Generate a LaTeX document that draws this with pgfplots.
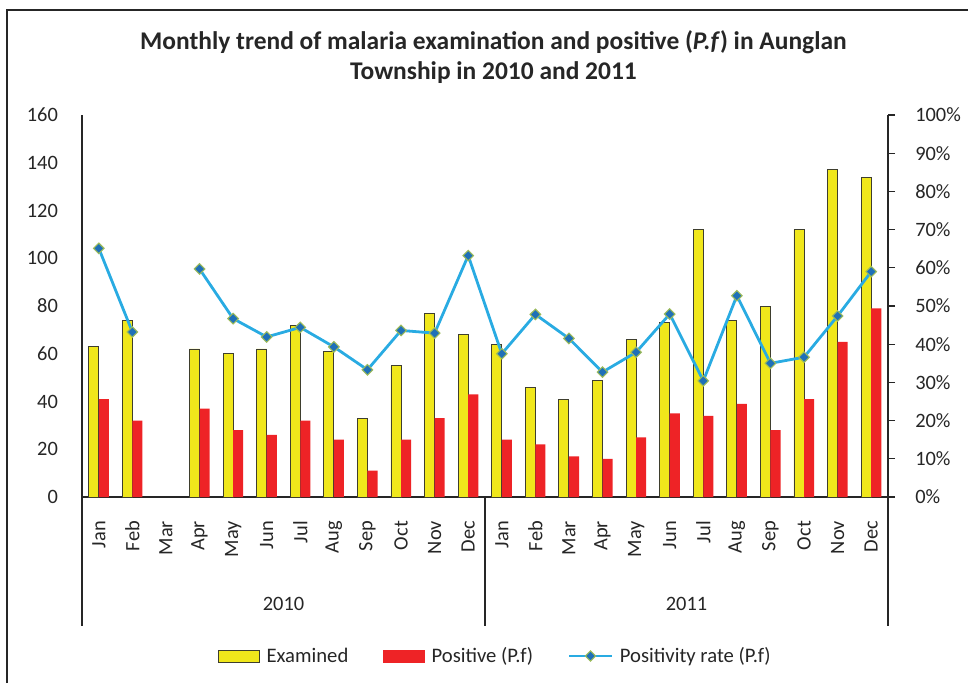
\documentclass[border=0pt]{standalone}
\usepackage{fontspec}
\setmainfont{Carlito}
\usepackage{pgfplots}
\pgfplotsset{compat=1.18}
\definecolor{exyellow}{HTML}{F0E71B}
\definecolor{exedge}{HTML}{3E3E2E}
\definecolor{posred}{HTML}{EE2326}
\definecolor{lineblue}{HTML}{29ABE2}
\definecolor{mkblue}{HTML}{1F70B8}
\definecolor{mkedge}{HTML}{9CBB5A}
\definecolor{txt}{HTML}{262626}
\begin{document}
\begin{tikzpicture}
\useasboundingbox (0,0) rectangle (726pt,512.25pt);
\draw[line width=1.1pt, txt] (5.25pt,0pt) -- (5.25pt,504.75pt) -- (726pt,504.75pt);
\node[anchor=base, font=\bfseries\fontsize{19.1}{22}\selectfont, text=txt, inner sep=0pt] at (370.1pt,475.3pt) {Monthly trend of malaria examination and positive (\textit{P.f}) in Aunglan};
\node[anchor=base, font=\bfseries\fontsize{19.1}{22}\selectfont, text=txt, inner sep=0pt] at (370.1pt,452.8pt) {Township in 2010 and 2011};

\begin{axis}[
  at={(61.5pt,139.5pt)}, anchor=south west,
  scale only axis, width=604.5pt, height=286.5pt,
  xmin=-0.5, xmax=23.5, ymin=0, ymax=160,
  axis x line=bottom, axis y line=left,
  axis line style={-, line width=1pt, txt},
  xtick={0,...,23},
  xticklabels={Jan,Feb,Mar,Apr,May,Jun,Jul,Aug,Sep,Oct,Nov,Dec,Jan,Feb,Mar,Apr,May,Jun,Jul,Aug,Sep,Oct,Nov,Dec},
  x tick style={draw=none}, y tick style={draw=none},
  xticklabel style={rotate=90, anchor=east, inner sep=0pt, font=\fontsize{15.3}{18}\selectfont, text=txt},
  xticklabel shift=15.75pt,
  ytick={0,20,...,160},
  yticklabels={0,20,40,60,80,100,120,140,160},
  yticklabel style={anchor=east, inner sep=0pt, font=\fontsize{15.3}{18}\selectfont, text=txt},
  yticklabel shift=15.75pt,
  clip=false,
]
\addplot[ybar, bar width=0.3, bar shift=-0.15, fill=exyellow, draw=exedge, line width=0.7pt] coordinates {
 (0,63) (1,74) (3,62) (4,60) (5,62) (6,72) (7,61) (8,33) (9,55) (10,77) (11,68)
 (12,64) (13,46) (14,41) (15,49) (16,66) (17,73) (18,112) (19,74) (20,80) (21,112) (22,137) (23,134)};
\addplot[ybar, bar width=0.3, bar shift=0.15, fill=posred, draw=none] coordinates {
 (0,41) (1,32) (3,37) (4,28) (5,26) (6,32) (7,24) (8,11) (9,24) (10,33) (11,43)
 (12,24) (13,22) (14,17) (15,16) (16,25) (17,35) (18,34) (19,39) (20,28) (21,41) (22,65) (23,79)};
\draw[line width=1pt, txt] (axis cs:-0.5,0) -- ++(0pt,-96.75pt);
\draw[line width=1pt, txt] (axis cs:11.5,0) -- ++(0pt,-96.75pt);
\draw[line width=1pt, txt] (axis cs:23.5,0) -- ++(0pt,-96.75pt);
\node[anchor=base, font=\fontsize{15.3}{18}\selectfont, text=txt, inner sep=0pt] at (axis cs:5.5,0) [yshift=-84.75pt] {2010};
\node[anchor=base, font=\fontsize{15.3}{18}\selectfont, text=txt, inner sep=0pt] at (axis cs:17.5,0) [yshift=-84.75pt] {2011};
\end{axis}

\begin{axis}[
  at={(61.5pt,139.5pt)}, anchor=south west,
  scale only axis, width=604.5pt, height=286.5pt,
  xmin=-0.5, xmax=23.5, ymin=0, ymax=100,
  axis x line=none, axis y line=right,
  axis line style={-, line width=1pt, txt},
  ytick={0,10,...,100},
  yticklabels={0\%,10\%,20\%,30\%,40\%,50\%,60\%,70\%,80\%,90\%,100\%},
  tick align=outside, major tick length=5.25pt,
  y tick style={line width=1pt, txt},
  yticklabel style={anchor=west, inner sep=0pt, font=\fontsize{15.3}{18}\selectfont, text=txt},
  yticklabel shift=15pt,
  unbounded coords=jump,
  clip=false,
  legend columns=3,
  legend cell align=left,
  legend style={at={(0.513,-0.4162)}, anchor=center, draw=none, fill=none,
    font=\fontsize{15.5}{18}\selectfont, text=txt,
    /tikz/every odd column/.append style={column sep=3pt},
    /tikz/every even column/.append style={column sep=24pt}},
]
\addlegendimage{legend image code/.code={\draw[fill=exyellow,draw=exedge,line width=0.7pt] (0pt,-4.5pt) rectangle (31pt,4.5pt);}}
\addlegendentry{Examined}
\addlegendimage{legend image code/.code={\fill[posred] (0pt,-4.5pt) rectangle (31pt,4.5pt);}}
\addlegendentry{Positive (P.f)}
\addplot[line width=2.1pt, lineblue, mark=square*, mark size=2.8pt,
  mark options={rotate=45, fill=mkblue, draw=mkedge, line width=0.8pt},
  legend image code/.code={\draw[line width=2.1pt, lineblue] (0pt,0pt) -- (32pt,0pt);
    \draw[mkedge, fill=mkblue, line width=0.8pt, rotate around={45:(16pt,0pt)}] (13.3pt,-2.7pt) rectangle (18.7pt,2.7pt);}]
 coordinates {
 (0,65.1) (1,43.2) (2,nan) (3,59.7) (4,46.7) (5,41.9) (6,44.4) (7,39.3) (8,33.3) (9,43.6) (10,42.9) (11,63.2)
 (12,37.5) (13,47.8) (14,41.5) (15,32.7) (16,37.9) (17,47.9) (18,30.4) (19,52.7) (20,35.0) (21,36.6) (22,47.4) (23,59.0)};
\addlegendentry{Positivity rate (P.f)}
\end{axis}
\end{tikzpicture}
\end{document}
